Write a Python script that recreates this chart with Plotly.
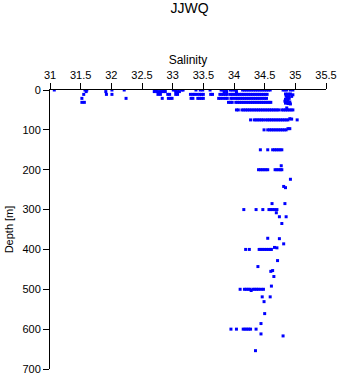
import plotly.graph_objects as go

# ---- data: salinity values read per sampled depth (m) ----
sal_000 = [31.07, 31.57, 31.60, 32.01, 32.21, 32.71, 32.73, 32.84, 32.87, 33.01, 33.04,
           33.15, 33.17, 33.38, 33.45, 33.49, 33.61, 33.79, 33.82, 33.87, 33.94, 33.97,
           34.00, 34.03, 34.14, 34.17, 34.20, 34.23, 34.26, 34.29, 34.32, 34.35, 34.38,
           34.41, 34.44, 34.47, 34.50, 34.53, 34.56, 34.59, 34.80, 34.83, 34.86, 34.92, 34.96]
sal_004 = [31.59, 31.91, 32.70, 32.74, 32.78, 32.81, 32.85, 32.88, 33.05, 33.08,
           33.11, 33.84, 33.88, 34.04]
sal_011 = [31.55, 31.92, 32.01, 32.76, 32.80, 32.92, 32.95, 33.05, 33.08, 33.29, 33.33,
           33.36, 33.40, 33.44, 33.47, 33.50, 33.62, 33.65, 33.77, 33.80, 33.83, 33.86,
           33.89, 33.94, 33.97, 34.00, 34.03, 34.06, 34.09, 34.12, 34.15, 34.18, 34.21,
           34.24, 34.27, 34.30, 34.33, 34.36, 34.39, 34.42, 34.45, 34.48, 34.51, 34.54]
sal_021 = [31.52, 32.24, 32.83, 32.93, 32.96, 32.99, 33.30, 33.33, 33.41, 33.44, 33.47,
           33.50, 33.75, 33.78, 33.82, 33.86, 33.89, 33.95, 33.98, 34.02, 34.05, 34.08,
           34.11, 34.14, 34.17, 34.20, 34.23, 34.26, 34.29, 34.32, 34.35, 34.38, 34.41,
           34.44, 34.47, 34.50, 34.53]
sal_031 = [31.52, 31.56, 33.91, 33.94, 33.97, 34.03, 34.06, 34.09, 34.12, 34.15, 34.18,
           34.21, 34.24, 34.27, 34.30, 34.33, 34.36, 34.39, 34.42, 34.45, 34.48, 34.51,
           34.54, 34.57, 34.60]
sal_050 = [34.04, 34.07, 34.13, 34.16, 34.19, 34.22, 34.25, 34.28, 34.31, 34.34, 34.37,
           34.40, 34.43, 34.46, 34.49, 34.52, 34.55, 34.58, 34.61, 34.64, 34.67, 34.70,
           34.73, 34.78, 34.81, 34.84, 34.87, 34.90, 34.93, 34.96]
sal_075 = [34.27, 34.33, 34.36, 34.39, 34.42, 34.45, 34.48, 34.52, 34.55, 34.58, 34.61,
           34.64, 34.67, 34.70, 34.73, 34.76, 34.79, 34.82, 34.85, 34.88, 35.03]
sal_100 = [34.49, 34.55, 34.58, 34.61, 34.64, 34.67, 34.70, 34.73, 34.76, 34.79, 34.82,
           34.85]
sal_150 = [34.43, 34.55, 34.63, 34.66, 34.69, 34.72, 34.75, 34.78]
sal_200 = [34.40, 34.43, 34.46, 34.49, 34.52, 34.55, 34.67, 34.70, 34.73, 34.76, 34.78]
sal_300 = [34.16, 34.36, 34.47, 34.57, 34.60, 34.63, 34.66, 34.70]
sal_400 = [34.19, 34.25, 34.41, 34.44, 34.47, 34.50, 34.53, 34.56, 34.59, 34.61]
sal_500 = [34.10, 34.17, 34.20, 34.23, 34.26, 34.31, 34.34, 34.37, 34.40, 34.44, 34.48]
sal_600 = [33.95, 34.04, 34.15, 34.18, 34.21, 34.24, 34.27, 34.36]

level_depths = [0, 4, 11, 21, 31, 50, 75, 100, 150, 200, 300, 400, 500, 600]
level_sals = [sal_000, sal_004, sal_011, sal_021, sal_031, sal_050, sal_075, sal_100,
              sal_150, sal_200, sal_300, sal_400, sal_500, sal_600]

# ---- scattered individual samples ----
extra_sal = [34.84, 34.88, 34.92, 34.96, 34.85, 34.89, 34.94, 34.86, 34.90, 34.84,
             34.88, 34.83, 34.87, 34.91, 34.84, 34.88, 34.92, 34.86,
             34.91, 34.94, 34.88, 34.91,
             34.77, 34.92, 34.81, 34.84, 34.62, 34.83, 34.69, 34.74, 34.85, 34.78,
             34.55, 34.74, 34.81, 34.66, 34.70, 34.71, 34.39, 34.60, 34.63, 34.65,
             34.61, 34.28, 34.46, 34.59, 34.49, 34.50, 34.44, 34.44, 34.80, 34.35]
extra_depth = [10, 10, 10, 12, 14, 14, 16, 19, 21, 23,
               25, 28, 30, 30, 33, 34, 35, 45,
               72, 73, 97, 97,
               190, 224, 242, 245, 285, 285, 308, 318, 318, 335,
               372, 373, 386, 395, 396, 428, 443, 455, 453, 468,
               492, 503, 519, 519, 531, 561, 586, 612, 617, 654]

salinity = []
depth = []
for d, vals in zip(level_depths, level_sals):
    salinity.extend(vals)
    depth.extend([d] * len(vals))
salinity.extend(extra_sal)
depth.extend(extra_depth)

x_ticks = [31, 31.5, 32, 32.5, 33, 33.5, 34, 34.5, 35, 35.5]
y_ticks = [0, 100, 200, 300, 400, 500, 600, 700]

FONT = "Liberation Sans, Arial, sans-serif"

fig = go.Figure(go.Scatter(
    x=salinity, y=depth, mode="markers",
    marker=dict(symbol="square", size=3, color="#0000ff", line=dict(width=0)),
    hoverinfo="x+y",
))

fig.update_layout(
    width=346, height=384,
    margin=dict(l=47, r=14, t=90, b=9),
    paper_bgcolor="white", plot_bgcolor="white",
    showlegend=False,
    font=dict(family=FONT, size=11, color="black"),
    title=dict(text="JJWQ", x=0.548, xanchor="center", xref="container",
               y=1 - 8 / 384, yref="container", yanchor="middle",
               font=dict(family=FONT, size=14, color="black")),
    xaxis=dict(side="top", range=[31, 35.5], tickvals=x_ticks,
               ticktext=[f"{v:g}" for v in x_ticks],
               ticks="outside", ticklen=6, tickcolor="black", tickwidth=1,
               showline=True, linecolor="black", linewidth=1, mirror=False,
               showgrid=False, zeroline=False,
               title=dict(text="Salinity", standoff=1, font=dict(size=12)),
               tickfont=dict(size=11)),
    yaxis=dict(range=[700, 0], tickvals=y_ticks,
               ticks="outside", ticklen=6, tickcolor="black", tickwidth=1,
               showline=True, linecolor="black", linewidth=1, mirror=False,
               showgrid=False, zeroline=False,
               title=dict(text="Depth [m]", standoff=6, font=dict(size=11)),
               tickfont=dict(size=11)),
)

fig.write_html("out.html")
